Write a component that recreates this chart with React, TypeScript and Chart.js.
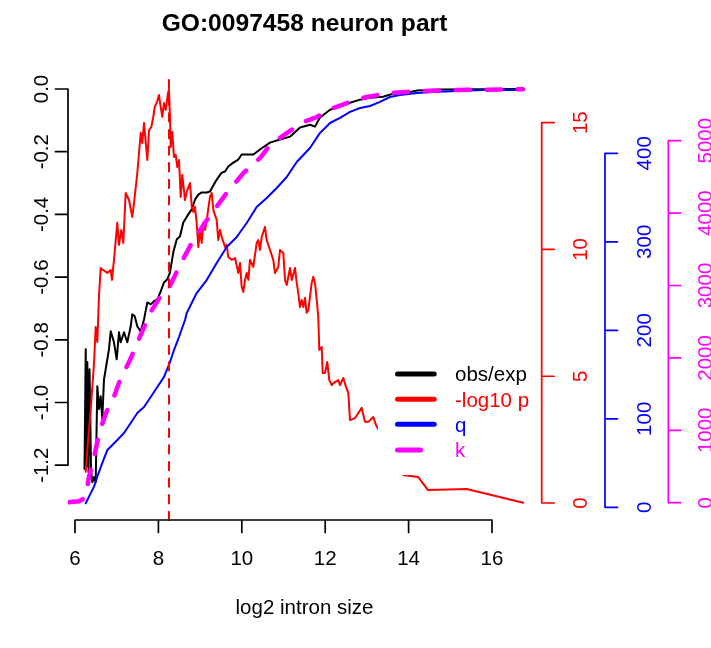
import React, { useEffect, useRef } from "react";
import { Chart, registerables } from "chart.js";

Chart.register(...registerables);

const TITLE = "GO:0097458 neuron part";
const X_LABEL = "log2 intron size";
const LEGEND_LABELS = ["obs/exp", "-log10 p", "q", "k"];
const COLORS = ["#000000", "#FF0000", "#0000FF", "#FF00FF"];

const X_TICKS = [6, 8, 10, 12, 14, 16];
const OBS_TICKS = [0, -0.2, -0.4, -0.6, -0.8, -1.0, -1.2];
const P_TICKS = [0, 5, 10, 15];
const Q_TICKS = [0, 100, 200, 300, 400];
const K_TICKS = [0, 1000, 2000, 3000, 4000, 5000];

// scale ranges (R style 4% padding around data)
const X_RANGE = [5.832, 17.175];
const OBS_RANGE = [-1.3748, 0.051];
const P_RANGE = [-0.6705, 16.96];
const Q_RANGE = [-14.35, 490.7];
const K_RANGE = [-239, 5935];

const PEAK_X = 8.254;

const obsExp: [number, number][] = [
  [6.228, -1.212], [6.257, -0.83], [6.276, -1.203], [6.295, -0.871], [6.324, -1.222],
  [6.348, -0.894], [6.384, -1.212], [6.415, -1.254], [6.456, -1.238], [6.496, -1.254],
  [6.535, -0.948], [6.576, -1.021], [6.616, -0.98], [6.655, -1.053], [6.695, -0.926],
  [6.736, -0.894], [6.775, -0.862], [6.815, -0.83], [6.856, -0.773], [6.935, -0.808],
  [7.0, -0.862], [7.055, -0.776], [7.096, -0.808], [7.175, -0.776], [7.254, -0.808],
  [7.336, -0.757], [7.374, -0.719], [7.432, -0.725], [7.494, -0.757], [7.576, -0.773],
  [7.655, -0.735], [7.734, -0.681], [7.815, -0.687], [7.894, -0.677], [7.974, -0.671],
  [8.055, -0.646], [8.134, -0.617], [8.213, -0.607], [8.278, -0.585], [8.357, -0.521],
  [8.439, -0.48], [8.518, -0.47], [8.597, -0.426], [8.717, -0.4], [8.799, -0.384],
  [8.878, -0.353], [8.957, -0.337], [9.038, -0.33], [9.158, -0.33], [9.237, -0.327],
  [9.357, -0.298], [9.436, -0.282], [9.518, -0.267], [9.597, -0.263], [9.676, -0.247],
  [9.796, -0.235], [9.916, -0.225], [9.998, -0.209], [10.117, -0.209], [10.276, -0.209],
  [10.436, -0.193], [10.676, -0.171], [10.916, -0.161], [11.156, -0.152], [11.396, -0.123],
  [11.635, -0.114], [11.755, -0.12], [11.875, -0.091], [12.115, -0.066], [12.355, -0.056],
  [12.595, -0.044], [12.835, -0.034], [13.074, -0.028], [13.386, -0.025], [13.626, -0.015],
  [13.962, -0.012], [14.201, -0.005], [14.753, -0.002], [15.712, -0.001], [16.743, 0],
];

const negLog10P: [number, number][] = [
  [6.257, 1.23], [6.295, 2.09], [6.376, 3.67], [6.456, 5.52], [6.496, 6.94], [6.535, 6.35],
  [6.576, 8.21], [6.616, 9.27], [6.655, 9.19], [6.679, 9.19], [6.775, 9.07], [6.856, 9.19],
  [6.887, 8.8], [6.935, 9.59], [7.014, 11.05], [7.055, 10.18], [7.11, 10.77], [7.158, 10.26],
  [7.216, 12.23], [7.295, 11.95], [7.374, 11.28], [7.415, 11.83], [7.494, 13.02], [7.576, 14.6],
  [7.614, 14.2], [7.655, 14.99], [7.695, 14.24], [7.734, 13.53], [7.775, 14.71], [7.83, 14.83],
  [7.878, 15.23], [7.911, 15.62], [7.959, 15.78], [8.014, 16.09], [8.055, 15.62], [8.094, 15.23],
  [8.134, 15.78], [8.175, 15.5], [8.23, 16.17], [8.254, 16.29], [8.278, 15.23], [8.295, 14.04],
  [8.333, 14.63], [8.374, 13.65], [8.415, 13.73], [8.453, 13.25], [8.494, 13.53], [8.535, 12.07],
  [8.573, 12.94], [8.638, 11.95], [8.679, 12.27], [8.758, 12.62], [8.799, 11.68], [8.837, 11.48],
  [8.878, 11.68], [8.918, 11.05], [8.957, 10.1], [8.998, 10.77], [9.038, 10.26], [9.077, 11.05],
  [9.118, 10.77], [9.158, 11.16], [9.237, 12.07], [9.278, 12.23], [9.317, 11.56], [9.398, 11.16],
  [9.436, 10.37], [9.477, 10.77], [9.518, 10.49], [9.597, 10.1], [9.638, 10.18], [9.676, 9.7],
  [9.758, 9.59], [9.837, 9.66], [9.916, 9.07], [9.957, 9.47], [9.998, 8.52], [10.036, 8.32],
  [10.077, 8.8], [10.117, 9.07], [10.156, 8.8], [10.197, 9.59], [10.276, 9.31], [10.357, 10.26],
  [10.396, 10.37], [10.436, 9.98], [10.477, 10.49], [10.516, 10.69], [10.556, 10.89], [10.597, 10.37],
  [10.676, 9.98], [10.755, 9.59], [10.796, 9.07], [10.875, 9.31], [10.916, 9.98], [10.995, 9.86],
  [11.036, 8.8], [11.077, 8.6], [11.156, 9.27], [11.197, 8.8], [11.276, 9.27], [11.317, 8.68],
  [11.355, 8.28], [11.396, 7.73], [11.436, 8.01], [11.475, 7.73], [11.516, 8.09], [11.556, 7.5],
  [11.595, 7.61], [11.676, 8.68], [11.715, 8.92], [11.755, 8.68], [11.796, 8.01], [11.834, 7.34],
  [11.858, 6.04], [11.916, 6.15], [11.94, 5.13], [11.995, 5.13], [12.05, 5.56], [12.098, 4.85],
  [12.156, 4.65], [12.235, 4.77], [12.314, 4.85], [12.355, 4.65], [12.434, 4.93], [12.499, 4.58],
  [12.554, 4.34], [12.595, 3.27], [12.715, 3.35], [12.794, 3.55], [12.875, 3.75], [12.954, 3.2],
  [13.034, 3.2], [13.153, 3.39], [13.218, 3.08], [13.555, 2.09], [13.873, 1.1], [14.227, 1.03],
  [14.465, 0.51], [15.393, 0.55], [16.751, 0.01],
];

const qValue: [number, number][] = [
  [6.257, 4.5], [6.336, 12.0], [6.456, 23.3], [6.535, 34.6], [6.655, 50.1], [6.775, 64.7],
  [6.856, 68.5], [7.014, 76.0], [7.175, 83.9], [7.336, 95.3], [7.494, 106.6], [7.655, 113.3],
  [7.815, 124.6], [7.974, 136.0], [8.134, 147.3], [8.254, 160.8], [8.374, 177.7], [8.494, 192.4],
  [8.638, 211.6], [8.679, 219.6], [8.918, 242.1], [9.158, 256.8], [9.398, 276.0], [9.638, 294.1],
  [9.878, 305.4], [10.117, 321.2], [10.357, 339.3], [10.597, 349.5], [10.837, 360.8], [11.077, 373.2],
  [11.317, 390.2], [11.635, 406.0], [11.875, 423.0], [12.115, 434.2], [12.355, 439.9], [12.595, 446.7],
  [12.835, 451.2], [13.074, 453.4], [13.314, 458.0], [13.554, 463.6], [13.794, 465.9], [14.201, 468.2],
  [14.585, 469.2], [15.161, 470.4], [15.784, 471.5], [16.743, 471.5],
];

const kValue: [number, number][] = [
  [5.85, 5], [6.1, 20], [6.22, 60], [6.281, 175], [6.336, 359], [6.439, 590], [6.6, 1004],
  [6.799, 1326], [6.935, 1464], [7.079, 1695], [7.319, 1971], [7.559, 2293], [7.799, 2620],
  [8.038, 2841], [8.254, 2966], [8.518, 3283], [8.837, 3628], [9.158, 3901], [9.638, 4278],
  [10.036, 4551], [10.436, 4760], [10.676, 4938], [11.077, 5106], [11.475, 5258], [11.796, 5327],
  [12.194, 5452], [12.595, 5535], [12.995, 5604], [13.554, 5659], [13.955, 5673], [14.353, 5687],
  [14.993, 5700], [16.743, 5710],
];

const FONT = '20.5px "Liberation Sans", Arial, Helvetica, sans-serif';
const TITLE_FONT = 'bold 24.6px "Liberation Sans", Arial, Helvetica, sans-serif';

function toPoints(arr: [number, number][]) {
  return arr.map(([x, y]) => ({ x, y }));
}

function drawVAxis(
  ctx: CanvasRenderingContext2D,
  scale: any,
  ax: number,
  ticks: number[],
  dir: number,
  color: string,
  labelBaseX: number,
  fmt: (v: number) => string
) {
  ctx.save();
  ctx.strokeStyle = color;
  ctx.fillStyle = color;
  ctx.lineWidth = 1.7;
  ctx.lineCap = "round";
  const p0 = scale.getPixelForValue(ticks[0]);
  const p1 = scale.getPixelForValue(ticks[ticks.length - 1]);
  ctx.beginPath();
  ctx.moveTo(ax, p0);
  ctx.lineTo(ax, p1);
  for (const t of ticks) {
    const py = scale.getPixelForValue(t);
    ctx.moveTo(ax, py);
    ctx.lineTo(ax + dir * 12.5, py);
  }
  ctx.stroke();
  ctx.font = FONT;
  ctx.textAlign = "center";
  ctx.textBaseline = "alphabetic";
  for (const t of ticks) {
    const py = scale.getPixelForValue(t);
    ctx.save();
    ctx.translate(labelBaseX, py);
    ctx.rotate(-Math.PI / 2);
    ctx.fillText(fmt(t), 0, 0);
    ctx.restore();
  }
  ctx.restore();
}

const rStylePlugin = {
  id: "rStyle",
  afterDatasetsDraw(chart: any) {
    const ctx: CanvasRenderingContext2D = chart.ctx;
    const { left, right, top, bottom } = chart.chartArea;
    const xs = chart.scales.x;

    // vertical dashed line at peak
    ctx.save();
    ctx.strokeStyle = "#FF0000";
    ctx.lineWidth = 2;
    ctx.lineCap = "round";
    ctx.setLineDash([8.3, 8.3]);
    const px = xs.getPixelForValue(PEAK_X);
    ctx.beginPath();
    ctx.moveTo(px, bottom);
    ctx.lineTo(px, top);
    ctx.stroke();
    ctx.restore();

    // legend with white background
    ctx.save();
    ctx.fillStyle = "#FFFFFF";
    ctx.fillRect(378, 346, right - 378, 129);
    const rowY = [374, 399.3, 424.3, 450];
    ctx.lineWidth = 5;
    ctx.lineCap = "round";
    ctx.font = FONT;
    ctx.textAlign = "left";
    ctx.textBaseline = "alphabetic";
    LEGEND_LABELS.forEach((lab, i) => {
      ctx.strokeStyle = COLORS[i];
      ctx.beginPath();
      ctx.moveTo(397.5, rowY[i]);
      ctx.lineTo(i === 3 ? 420.5 : 434.2, rowY[i]);
      ctx.stroke();
      ctx.fillStyle = COLORS[i];
      ctx.fillText(lab, 455, rowY[i] + 7.2);
    });
    ctx.restore();

    // bottom axis
    ctx.save();
    ctx.strokeStyle = "#000";
    ctx.fillStyle = "#000";
    ctx.lineWidth = 1.7;
    ctx.lineCap = "round";
    const x0 = xs.getPixelForValue(X_TICKS[0]);
    const x1 = xs.getPixelForValue(X_TICKS[X_TICKS.length - 1]);
    ctx.beginPath();
    ctx.moveTo(x0, bottom);
    ctx.lineTo(x1, bottom);
    for (const t of X_TICKS) {
      const p = xs.getPixelForValue(t);
      ctx.moveTo(p, bottom);
      ctx.lineTo(p, bottom + 12.5);
    }
    ctx.stroke();
    ctx.font = FONT;
    ctx.textAlign = "center";
    ctx.textBaseline = "alphabetic";
    for (const t of X_TICKS) {
      ctx.fillText(String(t), xs.getPixelForValue(t), bottom + 45);
    }
    ctx.fillText(X_LABEL, (left + right) / 2, 614);
    ctx.font = TITLE_FONT;
    ctx.fillText(TITLE, (left + right) / 2, 31);
    ctx.restore();

    // vertical axes
    drawVAxis(ctx, chart.scales.yObs, left, OBS_TICKS, -1, "#000000", left - 20.5, (v) => v.toFixed(1));
    drawVAxis(ctx, chart.scales.yP, right + 0.7, P_TICKS, 1, "#FF0000", right + 45.7, (v) => String(v));
    drawVAxis(ctx, chart.scales.yQ, 605, Q_TICKS, 1, "#0000FF", 650.5, (v) => String(v));
    drawVAxis(ctx, chart.scales.yK, 668.3, K_TICKS, 1, "#FF00FF", 712, (v) => String(v));
  },
};

export default function App() {
  const ref = useRef<HTMLCanvasElement | null>(null);
  useEffect(() => {
    if (!ref.current) return;
    const hidden = { display: false };
    const chart = new Chart(ref.current, {
      type: "line",
      data: {
        datasets: [
          {
            label: LEGEND_LABELS[0],
            data: toPoints(obsExp),
            yAxisID: "yObs",
            borderColor: COLORS[0],
            borderWidth: 2,
            pointRadius: 0,
            order: 4,
          },
          {
            label: LEGEND_LABELS[1],
            data: toPoints(negLog10P),
            yAxisID: "yP",
            borderColor: COLORS[1],
            borderWidth: 2,
            pointRadius: 0,
            order: 3,
          },
          {
            label: LEGEND_LABELS[2],
            data: toPoints(qValue),
            yAxisID: "yQ",
            borderColor: COLORS[2],
            borderWidth: 2,
            pointRadius: 0,
            order: 2,
          },
          {
            label: LEGEND_LABELS[3],
            data: toPoints(kValue),
            yAxisID: "yK",
            borderColor: COLORS[3],
            borderWidth: 4.5,
            borderDash: [14.5, 16.5],
            borderCapStyle: "round",
            pointRadius: 0,
            order: 1,
          },
        ] as any,
      },
      options: {
        animation: false,
        responsive: false,
        devicePixelRatio: 1,
        parsing: false as any,
        layout: { padding: { left: 68, right: 170, top: 73, bottom: 128 } },
        elements: { line: { tension: 0, borderJoinStyle: "round", borderCapStyle: "round", fill: false } },
        plugins: { legend: { display: false }, title: { display: false }, tooltip: { enabled: false } },
        scales: {
          x: { type: "linear", min: X_RANGE[0], max: X_RANGE[1], ...hidden },
          yObs: { type: "linear", min: OBS_RANGE[0], max: OBS_RANGE[1], ...hidden },
          yP: { type: "linear", min: P_RANGE[0], max: P_RANGE[1], ...hidden },
          yQ: { type: "linear", min: Q_RANGE[0], max: Q_RANGE[1], ...hidden },
          yK: { type: "linear", min: K_RANGE[0], max: K_RANGE[1], ...hidden },
        },
      },
      plugins: [rStylePlugin],
    });
    return () => chart.destroy();
  }, []);
  return (
    <canvas
      ref={ref}
      width={711}
      height={648}
      style={{ position: "absolute", left: 0, top: 0, display: "block", background: "#fff" }}
    />
  );
}
